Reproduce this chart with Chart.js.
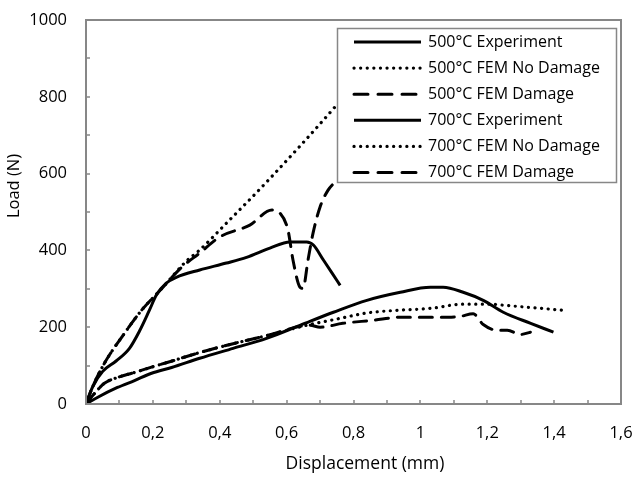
<!DOCTYPE html>
<html>
<head>
<meta charset="utf-8">
<script src="https://cdn.jsdelivr.net/npm/chart.js@4/dist/chart.umd.min.js"></script>
<style>
  html, body { margin: 0; padding: 0; background: #fff; }
  #wrap { width: 635px; height: 477px; }
</style>
</head>
<body>
<div id="wrap"><canvas id="chart" width="635" height="477"></canvas></div>
<script>
// Datos (desplazamiento en mm, carga en N)
const x500Exp = [0, 0.02, 0.05, 0.09, 0.13, 0.16, 0.19, 0.21, 0.24, 0.27, 0.34, 0.42, 0.48, 0.55, 0.61, 0.66, 0.68, 0.71, 0.736, 0.76];
const y500Exp = [0, 45, 85, 112, 145, 190, 245, 283, 315, 330, 349, 367, 382, 406, 422, 422, 414, 375, 341, 309];

const x500NoDmg = [0, 0.02, 0.055, 0.115, 0.166, 0.226, 0.3, 0.34, 0.42, 0.54, 0.745, 0.77];
const y500NoDmg = [0, 45, 106, 184, 244, 300, 372, 401, 471, 578, 774, 800];

const x500Dmg = [0, 0.02, 0.055, 0.115, 0.166, 0.226, 0.286, 0.34, 0.40, 0.49, 0.556, 0.58, 0.604, 0.619, 0.64, 0.649, 0.664, 0.679, 0.70, 0.724, 0.745, 0.77];
const y500Dmg = [0, 45, 106, 184, 244, 300, 356, 393, 435, 466, 505, 497, 453, 375, 304, 301, 375, 445, 513, 557, 578, 600];

const x700Exp = [0, 0.034, 0.094, 0.145, 0.196, 0.256, 0.34, 0.44, 0.54, 0.64, 0.74, 0.84, 0.94, 1.03, 1.068, 1.128, 1.188, 1.248, 1.33, 1.398];
const y700Exp = [0, 17, 43, 61, 80, 95, 119, 145, 171, 205, 239, 270, 291, 304, 304, 291, 270, 239, 210, 187];

const x700NoDmg = [0, 0.025, 0.055, 0.094, 0.145, 0.196, 0.265, 0.34, 0.44, 0.54, 0.66, 0.76, 0.84, 0.93, 1.03, 1.128, 1.2, 1.278, 1.428];
const y700NoDmg = [0, 27, 54, 69, 82, 96, 114, 134, 157, 178, 205, 223, 237, 244, 249, 260, 260, 255, 244];

const x700Dmg = [0, 0.025, 0.055, 0.094, 0.145, 0.196, 0.265, 0.34, 0.44, 0.54, 0.67, 0.70, 0.768, 0.858, 0.94, 1.02, 1.083, 1.119, 1.158, 1.188, 1.23, 1.26, 1.299, 1.329];
const y700Dmg = [0, 27, 54, 69, 82, 96, 114, 134, 157, 178, 205, 200, 210, 218, 226, 226, 226, 228, 235, 207, 192, 192, 181, 187];

const seriesNames = ['500°C Experiment', '500°C FEM No Damage', '500°C FEM Damage',
                     '700°C Experiment', '700°C FEM No Damage', '700°C FEM Damage'];

const xTitle = 'Displacement (mm)';
const yTitle = 'Load (N)';
const xMax = 1.6;
const yMax = 1000;

const FONT = '"Open Sans", sans-serif';
const TAM = 16.5;
const GRIS = '#878787';

// Estilos de línea: continua, punteada, discontinua
const SOLID = [];
const DOTS = [0.1, 6.5];
const DASH = [13, 9];

function puntos(xs, ys) {
    return xs.map((x, i) => ({ x: x, y: ys[i] }));
}

function serie(nombre, xs, ys, dash) {
    return {
        label: nombre,
        data: puntos(xs, ys),
        borderColor: '#000',
        borderWidth: dash === DOTS ? 3.2 : 3,
        borderDash: dash,
        borderCapStyle: dash === SOLID ? 'butt' : 'round',
        pointRadius: 0,
        fill: false,
        showLine: true,
        cubicInterpolationMode: 'monotone'
    };
}

const datasets = [
    serie(seriesNames[0], x500Exp, y500Exp, SOLID),
    serie(seriesNames[1], x500NoDmg, y500NoDmg, DOTS),
    serie(seriesNames[2], x500Dmg, y500Dmg, DASH),
    serie(seriesNames[3], x700Exp, y700Exp, SOLID),
    serie(seriesNames[4], x700NoDmg, y700NoDmg, DOTS),
    serie(seriesNames[5], x700Dmg, y700Dmg, DASH)
];

// Marco gris, marcas hacia dentro, títulos de ejes y leyenda dentro del gráfico
const marcoPlugin = {
    id: 'marco',
    afterDatasetsDraw(chart) {
        const ctx = chart.ctx;
        const a = chart.chartArea;
        const xs = chart.scales.x;
        const ys = chart.scales.y;
        ctx.save();

        // marcas interiores
        ctx.strokeStyle = GRIS;
        ctx.lineWidth = 1.5;
        xs.ticks.forEach(t => {
            const px = Math.round(xs.getPixelForValue(t.value));
            ctx.beginPath();
            ctx.moveTo(px, a.bottom);
            ctx.lineTo(px, a.bottom - 4);
            ctx.stroke();
        });
        ys.ticks.forEach(t => {
            const py = Math.round(ys.getPixelForValue(t.value));
            ctx.beginPath();
            ctx.moveTo(a.left, py);
            ctx.lineTo(a.left + 4, py);
            ctx.stroke();
        });

        // marco
        ctx.lineWidth = 2;
        ctx.strokeRect(a.left, a.top, a.right - a.left, a.bottom - a.top);

        // leyenda
        const lx = 337, ly = 28, lw = 279, lh = 154;
        ctx.fillStyle = '#fff';
        ctx.fillRect(lx, ly, lw, lh);
        ctx.strokeStyle = GRIS;
        ctx.lineWidth = 1.5;
        ctx.strokeRect(lx + 0.5, ly + 0.5, lw, lh);

        chart.data.datasets.forEach((ds, i) => {
            const y = ly + 14 + i * 26.1;
            ctx.strokeStyle = '#000';
            ctx.lineWidth = ds.borderWidth;
            ctx.lineCap = ds.borderCapStyle;
            ctx.setLineDash(ds.borderDash === DASH ? [14, 10] : ds.borderDash);
            ctx.beginPath();
            ctx.moveTo(354, y);
            ctx.lineTo(421, y);
            ctx.stroke();
            ctx.setLineDash([]);
            ctx.fillStyle = '#000';
            ctx.font = '16px ' + FONT;
            ctx.textBaseline = 'middle';
            ctx.textAlign = 'left';
            ctx.fillText(ds.label, 428, y);
        });

        // títulos de los ejes
        ctx.fillStyle = '#000';
        ctx.font = '17.5px ' + FONT;
        ctx.textAlign = 'center';
        ctx.textBaseline = 'middle';
        ctx.fillText(xTitle, 365, 464);
        ctx.translate(14, 186);
        ctx.rotate(-Math.PI / 2);
        ctx.font = TAM + 'px ' + FONT;
        ctx.fillText(yTitle, 0, 0);
        ctx.restore();
    }
};

function etiqueta(valor, idx) {
    if (idx % 2 !== 0) return '';
    return String(Math.round(valor * 10) / 10).replace('.', ',');
}

new Chart(document.getElementById('chart'), {
    type: 'scatter',
    data: { datasets: datasets },
    plugins: [marcoPlugin],
    options: {
        responsive: false,
        animation: false,
        layout: { padding: { top: 20, right: 14, left: 0, bottom: 0 } },
        plugins: {
            legend: { display: false },
            tooltip: { enabled: false }
        },
        scales: {
            x: {
                type: 'linear',
                min: 0,
                max: xMax,
                afterFit: s => { s.height = 73; s.paddingLeft = 0; s.paddingRight = 0; },
                border: { display: false },
                grid: { display: false, drawTicks: false },
                ticks: {
                    stepSize: 0.1,
                    padding: 19,
                    maxRotation: 0,
                    autoSkip: false,
                    color: '#000',
                    font: { family: FONT, size: TAM },
                    callback: (v, i) => etiqueta(v, i)
                }
            },
            y: {
                type: 'linear',
                min: 0,
                max: yMax,
                afterFit: s => { s.width = 86; s.paddingTop = 0; s.paddingBottom = 0; },
                border: { display: false },
                grid: { display: false, drawTicks: false },
                ticks: {
                    stepSize: 100,
                    padding: 19,
                    autoSkip: false,
                    color: '#000',
                    font: { family: FONT, size: TAM },
                    callback: (v, i) => (i % 2 === 0 ? String(v) : '')
                }
            }
        }
    }
});
</script>
</body>
</html>
